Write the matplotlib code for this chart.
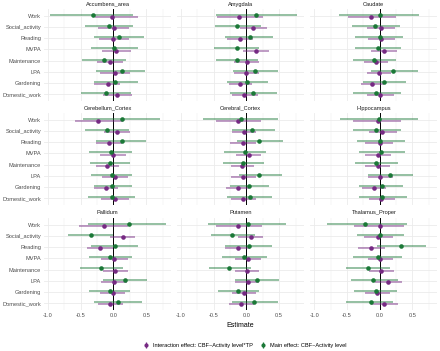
import matplotlib
matplotlib.use('Agg')
import matplotlib.pyplot as plt
from matplotlib.lines import Line2D
import numpy as np

plt.rcParams['font.family'] = ['Liberation Sans', 'DejaVu Sans']

# categories (top to bottom)
activities = ['Work', 'Social_activity', 'Reading', 'MVPA', 'Maintenance',
              'LPA', 'Gardening', 'Domestic_work']
regions = ['Accumbens_area', 'Amygdala', 'Caudate',
           'Cerebellum_Cortex', 'Cerebral_Cortex', 'Hippocampus',
           'Pallidum', 'Putamen', 'Thalamus_Proper']

# main effect estimates (green) and CI per region, in activity order
mainEst = {
    'Accumbens_area': [-0.32, -0.07, 0.09, 0.015, -0.14, 0.13, 0.02, -0.12],
    'Amygdala': [0.14, -0.15, 0.055, -0.15, -0.15, 0.13, 0.01, 0.10],
    'Caudate': [0.0, -0.07, 0.0, -0.03, -0.08, 0.20, 0.07, -0.05],
    'Cerebellum_Cortex': [0.13, -0.10, 0.13, -0.04, -0.05, -0.02, -0.02, -0.03],
    'Cerebral_Cortex': [-0.08, 0.09, 0.20, -0.025, -0.055, 0.20, 0.045, 0.055],
    'Hippocampus': [-0.01, -0.05, 0.01, 0.02, -0.05, 0.16, 0.03, 0.04],
    'Pallidum': [0.23, -0.35, 0.02, -0.055, -0.19, 0.18, -0.06, 0.07],
    'Putamen': [0.025, -0.22, 0.035, -0.03, -0.26, 0.165, -0.12, 0.115],
    'Thalamus_Proper': [-0.22, 0.0, 0.32, -0.02, -0.18, -0.10, -0.06, -0.14],
}
mainLo = {
    'Accumbens_area': [-0.97, -0.44, -0.29, -0.35, -0.48, -0.26, -0.30, -0.50],
    'Amygdala': [-0.46, -0.48, -0.32, -0.49, -0.46, -0.20, -0.30, -0.25],
    'Caudate': [-0.62, -0.42, -0.38, -0.37, -0.40, -0.13, -0.26, -0.40],
    'Cerebellum_Cortex': [-0.46, -0.44, -0.26, -0.37, -0.36, -0.35, -0.30, -0.39],
    'Cerebral_Cortex': [-0.66, -0.22, -0.15, -0.34, -0.36, -0.11, -0.25, -0.29],
    'Hippocampus': [-0.61, -0.40, -0.34, -0.31, -0.37, -0.18, -0.31, -0.32],
    'Pallidum': [-0.39, -0.69, -0.34, -0.37, -0.51, -0.16, -0.37, -0.29],
    'Putamen': [-0.59, -0.54, -0.32, -0.37, -0.57, -0.17, -0.43, -0.22],
    'Thalamus_Proper': [-0.81, -0.35, -0.04, -0.40, -0.51, -0.44, -0.39, -0.52],
}
mainHi = {
    'Accumbens_area': [0.30, 0.30, 0.47, 0.38, 0.19, 0.48, 0.37, 0.26],
    'Amygdala': [0.77, 0.22, 0.41, 0.19, 0.18, 0.49, 0.33, 0.47],
    'Caudate': [0.60, 0.31, 0.36, 0.32, 0.25, 0.58, 0.40, 0.32],
    'Cerebellum_Cortex': [0.71, 0.24, 0.49, 0.29, 0.25, 0.29, 0.29, 0.33],
    'Cerebral_Cortex': [0.49, 0.43, 0.56, 0.30, 0.27, 0.54, 0.34, 0.39],
    'Hippocampus': [0.59, 0.32, 0.39, 0.38, 0.28, 0.51, 0.35, 0.42],
    'Pallidum': [0.80, -0.01, 0.38, 0.29, 0.14, 0.51, 0.25, 0.43],
    'Putamen': [0.61, 0.13, 0.39, 0.31, 0.065, 0.50, 0.20, 0.48],
    'Thalamus_Proper': [0.41, 0.37, 0.70, 0.34, 0.16, 0.28, 0.27, 0.21],
}

# interaction effect estimates (purple) and CI
intEst = {
    'Accumbens_area': [-0.015, 0.005, 0.0, 0.04, -0.05, 0.02, -0.09, 0.06],
    'Amygdala': [-0.11, 0.10, -0.10, 0.14, 0.01, 0.0, -0.10, -0.03],
    'Caudate': [-0.13, 0.02, 0.015, 0.06, -0.055, -0.015, -0.11, 0.01],
    'Cerebellum_Cortex': [-0.23, 0.05, -0.07, 0.0, -0.10, 0.03, -0.11, 0.02],
    'Cerebral_Cortex': [-0.13, -0.035, -0.055, 0.035, -0.065, -0.05, -0.13, -0.055],
    'Hippocampus': [-0.03, 0.035, 0.0, -0.025, -0.02, 0.01, -0.085, 0.02],
    'Pallidum': [-0.15, 0.15, -0.20, 0.015, 0.025, 0.005, -0.01, -0.05],
    'Putamen': [-0.12, 0.065, -0.135, 0.02, 0.01, 0.02, -0.035, -0.08],
    'Thalamus_Proper': [0.01, -0.02, -0.13, 0.01, 0.02, 0.13, -0.04, 0.07],
}
intLo = {
    'Accumbens_area': [-0.28, -0.24, -0.22, -0.18, -0.25, -0.21, -0.29, -0.16],
    'Amygdala': [-0.45, -0.09, -0.29, -0.05, -0.19, -0.19, -0.27, -0.22],
    'Caudate': [-0.49, -0.19, -0.18, -0.14, -0.24, -0.20, -0.29, -0.19],
    'Cerebellum_Cortex': [-0.59, -0.15, -0.27, -0.20, -0.27, -0.17, -0.30, -0.19],
    'Cerebral_Cortex': [-0.47, -0.22, -0.25, -0.16, -0.24, -0.24, -0.31, -0.24],
    'Hippocampus': [-0.41, -0.17, -0.22, -0.22, -0.22, -0.18, -0.27, -0.17],
    'Pallidum': [-0.52, -0.05, -0.40, -0.19, -0.16, -0.19, -0.20, -0.24],
    'Putamen': [-0.46, -0.13, -0.33, -0.18, -0.18, -0.17, -0.22, -0.27],
    'Thalamus_Proper': [-0.39, -0.24, -0.33, -0.18, -0.17, -0.07, -0.22, -0.13],
}
intHi = {
    'Accumbens_area': [0.38, 0.23, 0.24, 0.26, 0.15, 0.25, 0.10, 0.29],
    'Amygdala': [0.25, 0.31, 0.10, 0.34, 0.19, 0.20, 0.09, 0.18],
    'Caudate': [0.25, 0.23, 0.23, 0.26, 0.13, 0.18, 0.07, 0.22],
    'Cerebellum_Cortex': [0.14, 0.25, 0.13, 0.19, 0.09, 0.22, 0.07, 0.23],
    'Cerebral_Cortex': [0.22, 0.15, 0.14, 0.23, 0.11, 0.14, 0.04, 0.14],
    'Hippocampus': [0.32, 0.26, 0.21, 0.17, 0.16, 0.21, 0.10, 0.24],
    'Pallidum': [0.22, 0.33, -0.01, 0.22, 0.22, 0.20, 0.18, 0.14],
    'Putamen': [0.24, 0.26, 0.06, 0.22, 0.19, 0.20, 0.15, 0.11],
    'Thalamus_Proper': [0.37, 0.20, 0.085, 0.21, 0.22, 0.34, 0.15, 0.28],
}

xticks = [-1.0, -0.5, 0.0, 0.5]

# style
purple = '#762A83'
green = '#1B7837'
gridCol = '#ebebeb'
textCol = '#4d4d4d'
fs = 4.1
dodge = 0.1

fig = plt.figure(figsize=(4.4, 3.51), dpi=100)
fig.patch.set_facecolor('white')

colLeft = [0.100, 0.402, 0.705]
rowBottom = [0.712, 0.416, 0.117]
panelW = 0.289
panelH = 0.262

ypos = np.arange(len(activities))

for i, region in enumerate(regions):
    r, c = divmod(i, 3)
    ax = fig.add_axes([colLeft[c], rowBottom[r], panelW, panelH])
    ax.set_xlim(-1.06, 0.88)
    ax.set_ylim(len(activities) - 1 + 0.6, -0.6)
    # grid
    for v in [-0.75, -0.25, 0.25, 0.75]:
        ax.axvline(v, color=gridCol, lw=0.35, zorder=0)
    for v in xticks:
        ax.axvline(v, color=gridCol, lw=0.6, zorder=0)
    for y in ypos:
        ax.axhline(y, color=gridCol, lw=0.6, zorder=0)
    ax.axvline(0, color='black', lw=0.7, zorder=1)

    # interaction (below), main (above)
    ax.hlines(ypos + dodge, intLo[region], intHi[region], color=purple,
              alpha=0.5, lw=1.3, zorder=2)
    ax.plot(intEst[region], ypos + dodge, 'o', color=purple, ms=3.3,
            mec='none', zorder=3)
    ax.hlines(ypos - dodge, mainLo[region], mainHi[region], color=green,
              alpha=0.5, lw=1.3, zorder=2)
    ax.plot(mainEst[region], ypos - dodge, 'o', color=green, ms=3.3,
            mec='none', zorder=3)

    for s in ax.spines.values():
        s.set_visible(False)
    ax.tick_params(length=0, labelsize=fs, labelcolor=textCol, pad=2)
    ax.set_xticks(xticks)
    ax.set_yticks(ypos)
    if c == 0:
        ax.set_yticklabels(activities)
    else:
        ax.set_yticklabels([])
    if r == 2:
        ax.set_xticklabels(['-1.0', '-0.5', '0.0', '0.5'])
    else:
        ax.set_xticklabels([])
    ax.set_title(region, fontsize=fs, color='#1a1a1a', pad=2.5)

fig.text(0.545, 0.074, 'Estimate', ha='center', va='center', fontsize=5,
         color='black')

handles = [
    (Line2D([], [], color=purple, marker='|', ms=5, mew=0.9, ls='none'),
     Line2D([], [], color=purple, marker='o', ms=3, mec='none', ls='none')),
    (Line2D([], [], color=green, marker='|', ms=5, mew=0.9, ls='none'),
     Line2D([], [], color=green, marker='o', ms=3, mec='none', ls='none')),
]
fig.legend(handles, ['Interaction effect: CBF~Activity level*TP',
                     'Main effect: CBF~Activity level'],
           loc='center', bbox_to_anchor=(0.555, 0.017), ncol=2, frameon=False,
           fontsize=fs, handlelength=1.2, handletextpad=0.6, columnspacing=1.2)

fig.savefig('out.png', dpi=100, facecolor='white')
